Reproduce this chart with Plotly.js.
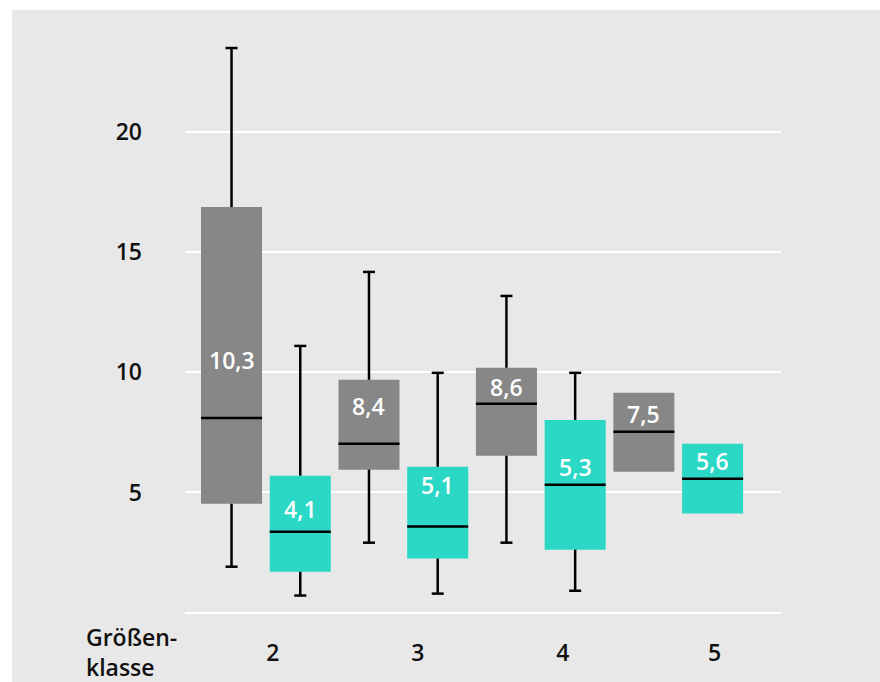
<!DOCTYPE html>
<html>
<head>
<meta charset="utf-8">
<script src="https://cdn.plot.ly/plotly-3.0.1.min.js"></script>
<style>
  html, body { margin: 0; padding: 0; background: #ffffff; overflow: hidden; }
  #chart { position: absolute; left: 12px; top: 10px; width: 868px; height: 672px; }
</style>
</head>
<body>
<div id="chart"></div>
<script>
// ---- data ----
const categories = ['2', '3', '4', '5'];
const axisTitle = 'Größen-<br>klasse';

// grey series
const greyQ1     = [4.53, 5.95, 6.53, 5.86];
const greyMedian = [8.10, 7.03, 8.69, 7.53];
const greyQ3     = [16.88, 9.69, 10.19, 9.15];
const greyLow    = [1.91, 2.91, 2.91, null];
const greyHigh   = [23.5, 14.18, 13.18, null];
const greyMean   = [10.3, 8.4, 8.6, 7.5];

// turquoise series
const tealQ1     = [1.70, 2.25, 2.62, 4.12];
const tealMedian = [3.37, 3.58, 5.32, 5.57];
const tealQ3     = [5.70, 6.07, 8.02, 7.03];
const tealLow    = [0.71, 0.79, 0.91, null];
const tealHigh   = [11.1, 9.98, 9.98, null];
const tealMean   = [4.1, 5.1, 5.3, 5.6];

const yTicks = [0, 5, 10, 15, 20];
const yTickText = ['', '5', '10', '15', '20'];

// ---- styling ----
const GREY = '#878787';
const TEAL = '#2ad8c5';
const BG = '#e8e8e8';
const BOXW = 0.888;      // box width in slot units
const CAPW = 0.175;      // whisker cap width in slot units
const FONT = 'Open Sans, sans-serif';

const greyX = categories.map((c, i) => 2 * i);
const tealX = categories.map((c, i) => 2 * i + 1);

function boxTrace(name, xs, q1, med, q3, lo, hi, color) {
  return {
    type: 'box', name: name, x: xs,
    q1: q1, median: med, q3: q3,
    lowerfence: q1.map((v, i) => lo[i] == null ? v : lo[i]),
    upperfence: q3.map((v, i) => hi[i] == null ? v : hi[i]),
    width: BOXW,
    fillcolor: color,
    line: { color: color, width: 0 },
    boxpoints: false,
    hoverinfo: 'skip',
    showlegend: false
  };
}

function lineTrace(xs, q1, med, q3, lo, hi) {
  const X = [], Y = [];
  function seg(x0, y0, x1, y1) { X.push(x0, x1, null); Y.push(y0, y1, null); }
  xs.forEach((x, i) => {
    if (hi[i] != null) {
      seg(x, q3[i], x, hi[i]);
      seg(x - CAPW / 2, hi[i], x + CAPW / 2, hi[i]);
    }
    if (lo[i] != null) {
      seg(x, q1[i], x, lo[i]);
      seg(x - CAPW / 2, lo[i], x + CAPW / 2, lo[i]);
    }
    seg(x - BOXW / 2, med[i], x + BOXW / 2, med[i]);
  });
  return {
    type: 'scatter', mode: 'lines', x: X, y: Y,
    line: { color: '#000000', width: 2.5 },
    hoverinfo: 'skip', showlegend: false, cliponaxis: false
  };
}

const data = [
  boxTrace('grau', greyX, greyQ1, greyMedian, greyQ3, greyLow, greyHigh, GREY),
  boxTrace('türkis', tealX, tealQ1, tealMedian, tealQ3, tealLow, tealHigh, TEAL),
  lineTrace(greyX, greyQ1, greyMedian, greyQ3, greyLow, greyHigh),
  lineTrace(tealX, tealQ1, tealMedian, tealQ3, tealLow, tealHigh)
];

const fmt = v => v.toFixed(1).replace('.', ',');
const LABELFONT = { family: FONT, size: 23, color: '#ffffff', weight: 600 };
// label sits just above the mean, but always clear of the median line
const labelY = (mean, med) => Math.max(mean + 0.2, med + 0.72);
const annotations = [];
greyX.forEach((x, i) => annotations.push({
  x: x, y: labelY(greyMean[i], greyMedian[i]), xref: 'x', yref: 'y',
  text: fmt(greyMean[i]), showarrow: false, yanchor: 'middle', font: LABELFONT
}));
tealX.forEach((x, i) => annotations.push({
  x: x, y: labelY(tealMean[i], tealMedian[i]), xref: 'x', yref: 'y',
  text: fmt(tealMean[i]), showarrow: false, yanchor: 'middle', font: LABELFONT
}));
annotations.push({
  x: -0.17, y: -0.062, xref: 'paper', yref: 'paper', text: axisTitle,
  showarrow: false, xanchor: 'left', yanchor: 'middle', align: 'left',
  font: { family: FONT, size: 23, color: '#111111', weight: 600 }
});

const TICKFONT = { family: FONT, size: 23, color: '#111111', weight: 600 };
const layout = {
  width: 868, height: 672,
  margin: { l: 173, r: 99, t: 14, b: 67 },
  paper_bgcolor: BG, plot_bgcolor: BG,
  showlegend: false,
  xaxis: {
    range: [-0.677, 7.995],
    tickvals: [0.6, 2.71, 4.82, 7.03],
    ticktext: categories,
    showgrid: false, zeroline: false, showline: false,
    ticks: '', ticklabelstandoff: 22,
    tickfont: TICKFONT
  },
  yaxis: {
    range: [-0.1, 24.5],
    tickvals: yTicks, ticktext: yTickText,
    showgrid: true, gridcolor: '#ffffff', gridwidth: 2,
    zeroline: false, showline: false,
    ticks: '', ticklabelstandoff: 42,
    tickfont: TICKFONT
  },
  annotations: annotations
};

Plotly.newPlot('chart', data, layout, { displayModeBar: false, staticPlot: true });
</script>
</body>
</html>
